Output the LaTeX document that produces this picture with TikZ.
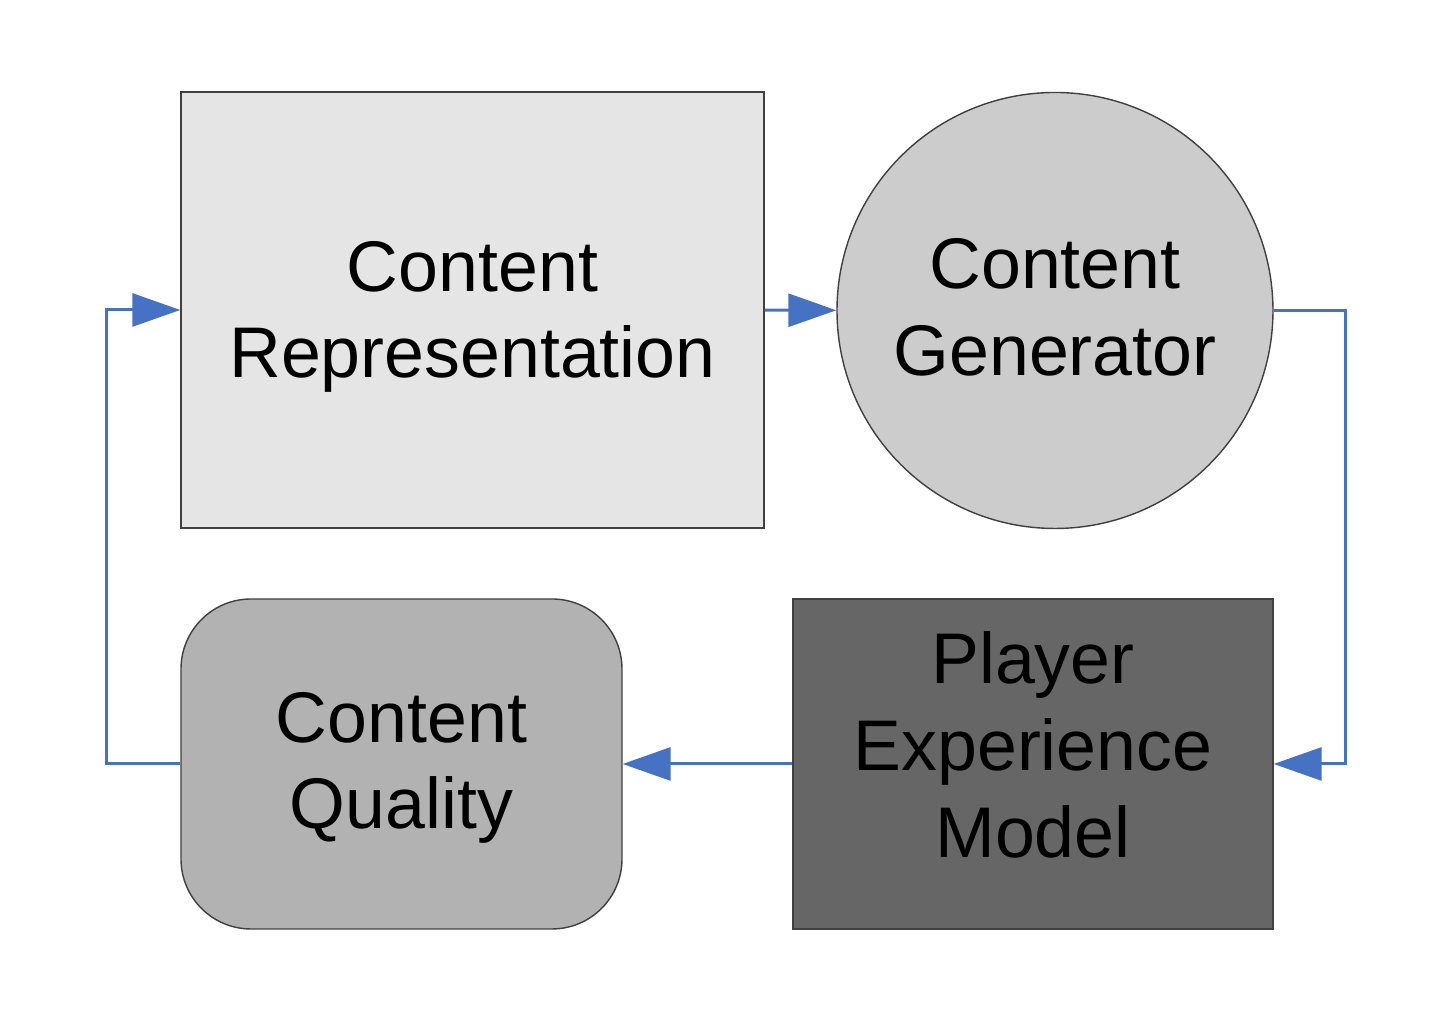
\documentclass[tikz,border=0pt]{standalone}
\usepackage{fontspec}
\setmainfont{Liberation Sans}
\usetikzlibrary{arrows.meta}

\definecolor{flowblue}{RGB}{70,114,196}

\tikzset{
    block/.style={draw=black!75, thin},
    caption/.style={align=center, font=\fontsize{20.4}{24.7}\selectfont},
    flow/.style={draw=flowblue, line width=0.03cm, -{Triangle[length=0.48cm, width=0.33cm]}}
}

\begin{document}
\begin{tikzpicture}
    \useasboundingbox (0, 0) rectangle (14.42, 10.14);

    \node[block, fill=black!10, minimum width=5.83cm, minimum height=4.36cm] (rep) at (4.725, 7.04) {};
    \node[block, fill=black!20, circle, minimum size=4.36cm, inner sep=0pt] (gen) at (10.55, 7.035) {};
    \node[block, fill=black!30, rounded corners=0.7cm, minimum width=4.41cm, minimum height=3.30cm] (cq) at (4.015, 2.50) {};
    \node[block, fill=black!60, minimum width=4.80cm, minimum height=3.30cm] (pem) at (10.33, 2.50) {};

    \node[caption] (repText) at ([yshift=-0.7mm]rep.center) {Content\\Representation};
    \node[caption] (genText) at ([yshift=0.3mm]gen.center) {Content\\Generator};
    \node[caption] (cqText) at ([yshift=-0.4mm]cq.center) {Content\\Quality};
    \node[caption] (pemText) at ([yshift=1.9mm]pem.center) {Player\\Experience\\Model};

    \draw[flow] (rep) -- (gen);
    \draw[flow] (gen.east) -- ++(0.72, 0) |- (pem.east);
    \draw[flow] (pem) -- (cq);
    \draw[flow] (cq.west) -- ++(-0.74, 0) |- (rep.west);
\end{tikzpicture}
\end{document}
